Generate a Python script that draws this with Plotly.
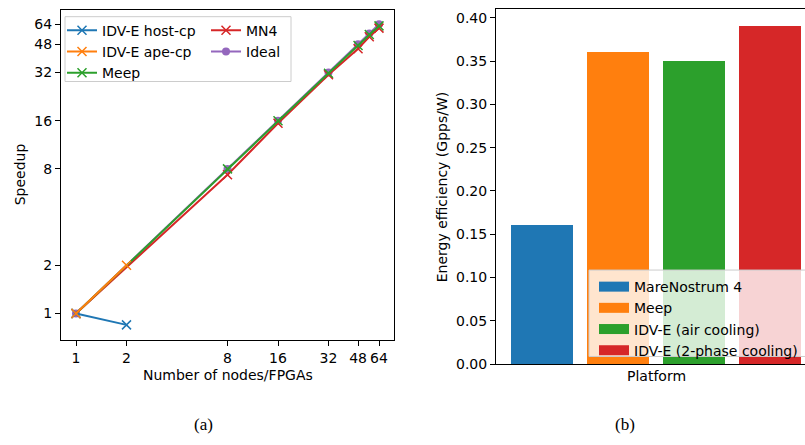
import plotly.graph_objects as go

W, H = 805, 445

# ---------------- data ----------------
host_x = [1, 2]
host_y = [1, 0.85]
ape_x = [1, 2]
ape_y = [1, 2]
meep_x = [1, 8, 16, 32, 48, 56, 64]
meep_y = [1, 8.0, 16.0, 31.6, 47.2, 55.2, 62.5]
mn4_x = [1, 8, 16, 32, 48, 56, 64]
mn4_y = [1, 7.35, 15.4, 31.0, 45.0, 53.5, 60.5]
ideal_x = [1, 8, 16, 32, 48, 56, 64]
ideal_y = [1, 8, 16, 32, 48, 56, 64]
tick_vals = [1, 2, 8, 16, 32, 48, 64]

platforms = ["MareNostrum 4", "Meep", "IDV-E (air cooling)", "IDV-E (2-phase cooling)"]
efficiency = [0.16, 0.36, 0.35, 0.39]
bar_pos = [0, 1, 2, 3]

C = ["#1f77b4", "#ff7f0e", "#2ca02c", "#d62728", "#9467bd"]
FONT = "DejaVu Sans"
FS = 14


def px(x):
    return x / W


def py(y):
    return 1 - y / H


fig = go.Figure()

xmk = dict(symbol="x-thin-open", size=9, line=dict(width=1.5))

# Ideal drawn first (underneath)
fig.add_trace(go.Scatter(x=ideal_x, y=ideal_y, name="Ideal", mode="lines+markers",
                         line=dict(color=C[4], width=2), marker=dict(symbol="circle", size=8, color=C[4]),
                         xaxis="x", yaxis="y", legend="legend2", legendrank=2))
fig.add_trace(go.Scatter(x=mn4_x, y=mn4_y, name="MN4", mode="lines+markers",
                         line=dict(color=C[3], width=2), marker=dict(color=C[3], **xmk),
                         xaxis="x", yaxis="y", legend="legend2", legendrank=1))
fig.add_trace(go.Scatter(x=meep_x, y=meep_y, name="Meep", mode="lines+markers",
                         line=dict(color=C[2], width=2), marker=dict(color=C[2], **xmk),
                         xaxis="x", yaxis="y", legend="legend", legendrank=3))
fig.add_trace(go.Scatter(x=host_x, y=host_y, name="IDV-E host-cp", mode="lines+markers",
                         line=dict(color=C[0], width=2), marker=dict(color=C[0], **xmk),
                         xaxis="x", yaxis="y", legend="legend", legendrank=1))
fig.add_trace(go.Scatter(x=ape_x, y=ape_y, name="IDV-E ape-cp", mode="lines+markers",
                         line=dict(color=C[1], width=2), marker=dict(color=C[1], **xmk),
                         xaxis="x", yaxis="y", legend="legend", legendrank=2))

# Bars
for i, (p, v) in enumerate(zip(platforms, efficiency)):
    fig.add_trace(go.Bar(x=[bar_pos[i]], y=[v], width=0.816, marker=dict(color=C[i], line=dict(width=0)),
                         name=p, showlegend=False, xaxis="x2", yaxis="y2"))
    fig.add_trace(go.Scatter(x=[None], y=[None], mode="lines", name=p,
                             line=dict(color=C[i], width=11), xaxis="x2", yaxis="y2",
                             legend="legend3", legendrank=i + 1))

axcommon = dict(showline=True, linecolor="black", linewidth=1, ticks="outside", ticklen=5,
                tickcolor="black", tickwidth=1, showgrid=False, zeroline=False,
                tickfont=dict(family=FONT, size=FS, color="black"))

fig.update_layout(
    width=W, height=H, margin=dict(l=0, r=0, t=0, b=0),
    paper_bgcolor="white", plot_bgcolor="white",
    font=dict(family=FONT, size=FS, color="black"),
    xaxis=dict(domain=[px(61), px(394)], type="log", range=[-0.0894, 1.8956],
               tickvals=tick_vals, ticktext=[str(t) for t in tick_vals], mirror=True,
               anchor="y", **axcommon),
    yaxis=dict(domain=[py(346), py(10)], type="log", range=[-0.1637, 1.8962],
               tickvals=tick_vals, ticktext=[str(t) for t in tick_vals], mirror=True,
               anchor="x", **axcommon),
    xaxis2=dict(domain=[px(496), 1.0], range=[-0.605, 3.461], showticklabels=False,
                anchor="y2", mirror=True, showline=True, linecolor="black", linewidth=1,
                ticks="", showgrid=False, zeroline=False),
    yaxis2=dict(domain=[py(370.7), py(9.3)], range=[0, 0.41], dtick=0.05, tickformat=".2f",
                anchor="x2", mirror=False, **axcommon),
    bargap=0,
    legend=dict(x=px(62), y=py(15), xanchor="left", yanchor="top", bgcolor="rgba(0,0,0,0)",
                borderwidth=0, font=dict(family=FONT, size=FS), tracegroupgap=0,
                traceorder="normal"),
    legend2=dict(x=px(206), y=py(15), xanchor="left", yanchor="top", bgcolor="rgba(0,0,0,0)",
                 borderwidth=0, font=dict(family=FONT, size=FS), tracegroupgap=0,
                 traceorder="normal"),
    legend3=dict(x=px(594), y=py(276), xanchor="left", yanchor="top", bgcolor="rgba(0,0,0,0)",
                 borderwidth=0, font=dict(family=FONT, size=FS), tracegroupgap=0,
                 traceorder="normal"),
    showlegend=True,
)

# legend frames
fig.add_shape(type="rect", xref="paper", yref="paper", x0=px(65), x1=px(291), y0=py(83), y1=py(17),
              line=dict(color="#cccccc", width=1), fillcolor="rgba(255,255,255,0.8)", layer="above")
fig.add_shape(type="rect", xref="paper", yref="paper", x0=px(589), x1=px(812), y0=py(363), y1=py(275),
              line=dict(color="#cccccc", width=1), fillcolor="rgba(255,255,255,0.8)", layer="above")

ann = [
    ("Speedup", 20, 177.5, -90, FONT, FS),
    ("Number of nodes/FPGAs", 228, 382, 0, FONT, FS),
    ("Energy efficiency (Gpps/W)", 441.7, 190, -90, FONT, FS),
    ("Platform", 656, 383, 0, FONT, FS),
    ("(a)", 203, 432, 0, "Liberation Serif", 17),
    ("(b)", 625, 432, 0, "Liberation Serif", 17),
]
for t, x, y, a, f, s in ann:
    fig.add_annotation(text=t, x=px(x), y=py(y), xref="paper", yref="paper", showarrow=False,
                       textangle=a, xanchor="center", yanchor="middle",
                       font=dict(family=f, size=s, color="black"))

fig.write_html("out.html")
